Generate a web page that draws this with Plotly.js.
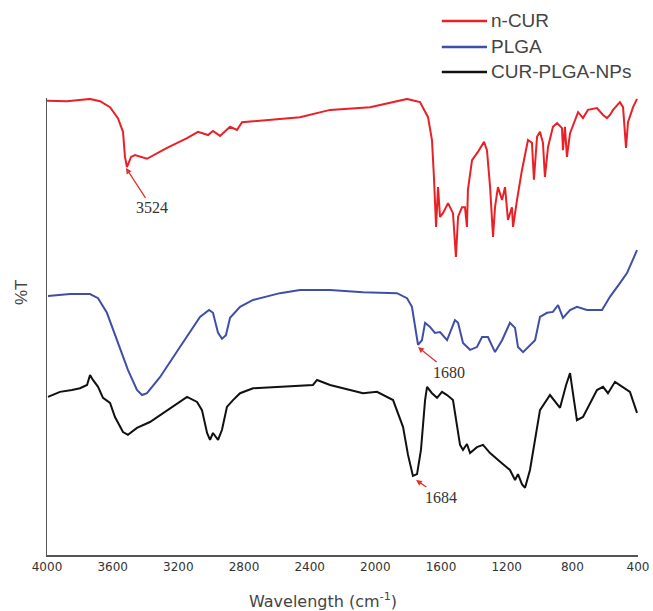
<!DOCTYPE html>
<html>
<head>
<meta charset="utf-8">
<script src="https://cdn.plot.ly/plotly-3.0.1.min.js"></script>
<style>html,body{margin:0;padding:0;background:#fff;}#chart{width:653px;height:611px;}</style>
</head>
<body>
<div id="chart"></div>
<script>
// Series names
var seriesNames = ["n-CUR", "PLGA", "CUR-PLGA-NPs"];

// n-CUR spectrum (wavenumber cm-1, %T arbitrary)
var wnRed = [4000,3878,3738,3677,3616,3568,3537,3525,3513,3488,3464,3391,3269,3147,3080,3019,2989,2946,2885,2843,2812,2660,2459,2276,2032,1807,1728,1679,1655,1643,1630,1618,1606,1588,1557,1527,1509,1496,1472,1454,1442,1436,1411,1375,1338,1320,1301,1283,1271,1253,1228,1210,1192,1168,1161,1137,1107,1070,1046,1034,1015,997,979,967,948,918,893,863,857,845,833,814,784,765,735,705,650,613,589,571,552,510,491,473,461,430,406];
var tRed = [99.4,99.3,99.8,99.3,98.0,95.6,92.6,87.1,84.9,87.1,87.5,86.7,89.1,91.2,92.6,91.9,92.8,91.7,93.7,93.0,94.7,95.2,95.8,97.4,98.0,99.8,99.1,95.8,90.8,82.7,71.8,80.5,74.0,74.8,77.0,74.8,65.2,74.0,76.1,76.1,71.8,79.9,86.4,88.2,90.4,88.6,80.5,69.6,76.1,80.5,77.7,80.5,73.3,76.1,71.8,77.7,84.2,90.8,90.2,82.1,91.5,92.6,90.2,82.7,89.3,93.7,94.5,93.4,88.6,93.7,87.1,92.3,95.2,96.9,95.6,97.4,97.8,96.3,95.6,96.3,97.4,99.1,98.0,89.1,94.7,98.0,99.8];

// PLGA spectrum
var wnBlue = [3994,3860,3738,3689,3635,3574,3507,3452,3421,3391,3312,3190,3068,3013,2989,2958,2934,2910,2885,2824,2745,2581,2459,2276,2075,1868,1807,1777,1758,1740,1716,1697,1667,1637,1606,1563,1515,1496,1466,1423,1381,1350,1314,1271,1228,1180,1149,1131,1100,1058,1027,997,954,918,887,857,814,772,711,619,571,510,467,406];
var tBlue = [56.7,57.1,57.1,56.2,53.0,47.0,40.5,36.1,35.0,35.4,38.9,45.5,52.1,53.6,53.0,48.6,47.3,48.1,51.9,54.3,55.8,57.3,58.0,58.0,57.5,57.3,56.2,54.3,49.9,46.0,47.0,50.8,49.9,48.6,48.8,47.0,51.4,50.8,46.4,44.9,45.5,47.7,47.7,44.4,47.0,50.8,49.7,45.5,44.4,46.0,47.0,52.1,53.0,53.2,54.7,51.9,53.6,54.3,53.6,53.6,56.5,59.5,61.7,66.7];

// CUR-PLGA-NPs spectrum
var wnBlack = [3994,3921,3848,3799,3756,3738,3720,3689,3659,3616,3586,3537,3507,3452,3373,3269,3147,3086,3056,3025,3007,2989,2958,2934,2904,2867,2824,2745,2562,2380,2355,2276,2075,1990,1892,1831,1801,1771,1746,1722,1697,1685,1655,1624,1594,1563,1527,1503,1484,1466,1442,1423,1381,1344,1301,1240,1180,1149,1131,1107,1088,1058,1027,997,936,875,838,814,790,772,735,650,613,583,540,449,406];
var tBlack = [34.6,35.7,36.1,36.5,37.2,39.4,38.3,36.8,34.4,33.3,30.2,26.9,26.3,27.8,29.1,31.7,34.6,33.5,31.7,26.7,25.2,26.7,25.2,27.4,32.4,33.9,35.4,36.5,36.8,37.2,38.3,37.2,35.4,35.7,33.9,28.0,21.9,17.3,17.7,23.0,33.9,36.8,35.4,34.4,35.7,35.0,33.9,28.0,24.1,23.0,24.3,22.3,23.6,24.1,22.3,20.4,18.6,16.4,17.7,15.5,14.7,18.6,25.2,31.7,35.0,32.2,37.2,39.8,33.9,29.5,30.2,36.1,36.8,35.4,37.9,35.7,31.1];

// Peak labels
var peakLabels = ["3524", "1680", "1684"];
var peakWn = [3519, 1740, 1752];
var peakT = [84.7, 45.5, 16.4];

// X tick values
var xTicks = [4000,3600,3200,2800,2400,2000,1600,1200,800,400];

var colors = ["#e82127", "#3f4ea6", "#111111"];
var xs = [wnRed, wnBlue, wnBlack];
var ys = [tRed, tBlue, tBlack];

var traces = seriesNames.map(function(n, i){
  return {x: xs[i], y: ys[i], name: n, type: "scatter", mode: "lines",
          line: {color: colors[i], width: 2}, cliponaxis: false, showlegend: false};
});

var annotations = [];
var offs = [[26,40],[31,25],[25,17]];
peakLabels.forEach(function(t, i){
  annotations.push({x: peakWn[i], y: peakT[i], xref: "x", yref: "y", text: t,
    showarrow: true, ax: offs[i][0], ay: offs[i][1], arrowcolor: "#e0332f",
    arrowhead: 2, arrowsize: 0.9, arrowwidth: 1.3, standoff: 0,
    font: {family: "Liberation Serif", size: 16, color: "#333"}});
});
annotations.push({x: -0.0423, y: 0.5755, xref: "paper", yref: "paper", text: "%T",
  textangle: -90, xanchor: "center", yanchor: "middle", showarrow: false,
  font: {family: "Liberation Sans", size: 17, color: "#444"}});
annotations.push({x: 0.467, y: -0.0985, xref: "paper", yref: "paper", text: "Wavelength (cm<sup>-1</sup>)",
  xanchor: "center", yanchor: "middle", showarrow: false,
  font: {family: "DejaVu Sans", size: 16, color: "#444"}});

var shapes = [];
var legY = [1.1685, 1.1116, 1.0569];
seriesNames.forEach(function(n, i){
  shapes.push({type: "line", xref: "paper", yref: "paper", x0: 0.668, x1: 0.7445,
    y0: legY[i], y1: legY[i], line: {color: colors[i], width: 2.5}});
  annotations.push({x: 0.748, y: legY[i], xref: "paper", yref: "paper", text: n,
    xanchor: "left", yanchor: "middle", showarrow: false,
    font: {family: "Liberation Sans", size: 19, color: "#444"}});
});

var layout = {
  width: 653, height: 611,
  margin: {l: 47, r: 15, t: 98, b: 56},
  paper_bgcolor: "#fff", plot_bgcolor: "#fff",
  showlegend: false,
  xaxis: {range: [4000, 400], tickvals: xTicks, ticktext: xTicks.map(String),
    showgrid: false, zeroline: false, showline: true, linecolor: "#555", linewidth: 1.5,
    ticks: "", tickfont: {family: "DejaVu Sans", size: 12, color: "#333"}},
  yaxis: {range: [0, 100], showgrid: false, zeroline: false, showline: true,
    linecolor: "#555", linewidth: 1.5, showticklabels: false, ticks: ""},
  annotations: annotations,
  shapes: shapes
};

Plotly.newPlot("chart", traces, layout, {displayModeBar: false, staticPlot: true});
</script>
</body>
</html>
